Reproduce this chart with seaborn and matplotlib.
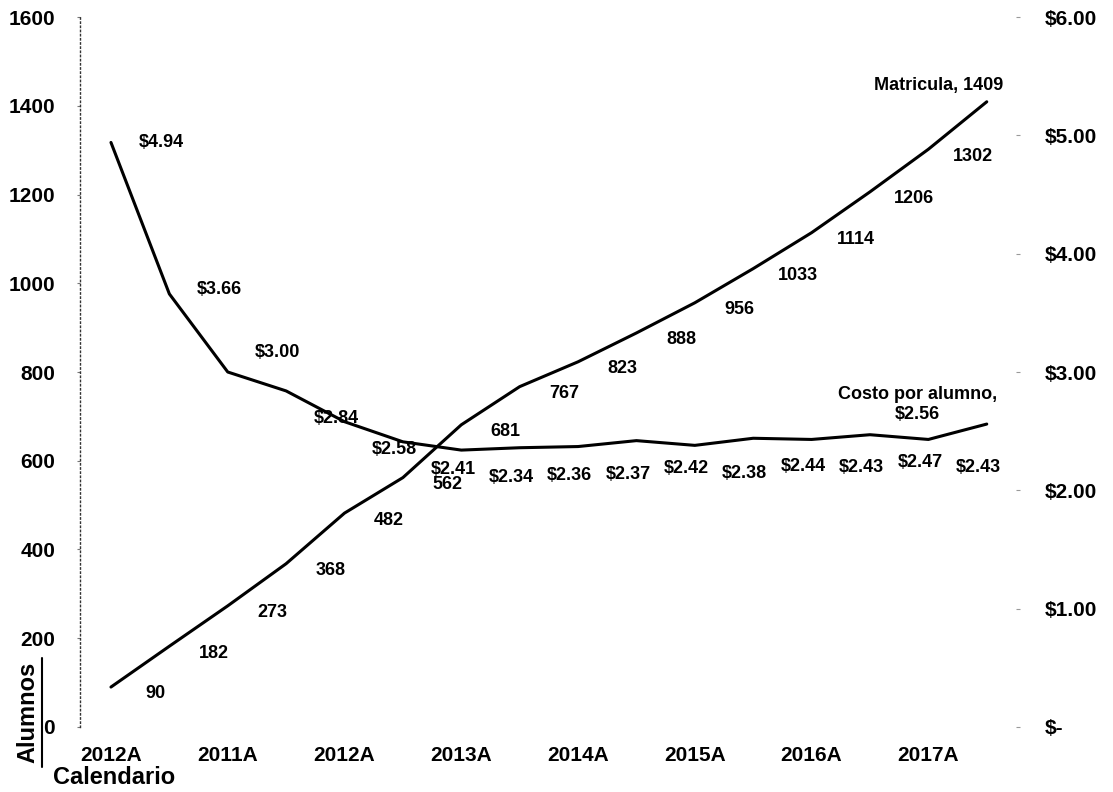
import numpy as np
import pandas as pd
import matplotlib
matplotlib.use("Agg")
import matplotlib.pyplot as plt
from matplotlib.lines import Line2D
import seaborn as sns

# Datos (semestres)
periodo = [0, 1, 2, 3, 4, 5, 6, 7, 8, 9, 10, 11, 12, 13, 14, 15]
matricula = [90, 182, 273, 368, 482, 562, 681, 767, 823, 888, 956, 1033, 1114, 1206, 1302, 1409]
costo = [4.94, 3.66, 3.00, 2.84, 2.58, 2.41, 2.34, 2.36, 2.37, 2.42, 2.38, 2.44, 2.43, 2.47, 2.43, 2.56]
x_ticks = [0, 2, 4, 6, 8, 10, 12, 14]
x_labels = ["2012A", "2011A", "2012A", "2013A", "2014A", "2015A", "2016A", "2017A"]
left_ticks = [0, 200, 400, 600, 800, 1000, 1200, 1400, 1600]
right_ticks = [0, 1, 2, 3, 4, 5, 6]
right_labels = ["$-", "$1.00", "$2.00", "$3.00", "$4.00", "$5.00", "$6.00"]

df = pd.DataFrame({"periodo": periodo, "matricula": matricula, "costo": costo})

sns.set_theme(style="white")
plt.rcParams["font.family"] = ["Liberation Sans", "DejaVu Sans"]
plt.rcParams["font.weight"] = "bold"
plt.rcParams["text.color"] = "black"
plt.rcParams["xtick.color"] = "black"
plt.rcParams["ytick.color"] = "black"

fig = plt.figure(figsize=(11.13, 7.92), dpi=100)
ax = fig.add_axes([0.0719, 0.0821, 0.8409, 0.8964])
ax2 = ax.twinx()

sns.lineplot(data=df, x="periodo", y="matricula", ax=ax, color="black", linewidth=2.2)
sns.lineplot(data=df, x="periodo", y="costo", ax=ax2, color="black", linewidth=2.2)

ax.set_xlim(-0.53, 15.5)
ax.set_ylim(0, 1600)
ax2.set_ylim(0, 6)

ax.set_xticks(x_ticks)
ax.set_xticklabels(x_labels, fontsize=15, fontweight="bold")
ax.set_yticks(left_ticks)
ax.set_yticklabels([str(v) for v in left_ticks], fontsize=15, fontweight="bold")
ax2.set_yticks(right_ticks)
ax2.set_yticklabels(right_labels, fontsize=15, fontweight="bold")

ax.tick_params(axis="x", length=0, pad=14)
ax.tick_params(axis="y", length=2, width=0.8, color="#777777", pad=16)
ax2.tick_params(axis="y", length=3, width=0.8, color="#999999", pad=18)

for s in ["top", "right", "bottom"]:
    ax.spines[s].set_visible(False)
for s in ["top", "right", "bottom", "left"]:
    ax2.spines[s].set_visible(False)
ax.spines["left"].set_linestyle((0, (1, 2)))
ax.spines["left"].set_color("#333333")
ax.spines["left"].set_linewidth(1.0)

ax.set_xlabel("")
ax.set_ylabel("")
ax2.set_ylabel("")

# etiquetas de datos
for i in range(len(periodo) - 1):
    ax.annotate(str(matricula[i]), (periodo[i], matricula[i]), xytext=(32, -5),
                textcoords="offset points", ha="center", va="center",
                fontsize=13, fontweight="bold")

cost_dy = [0, 3, 14] + [-20] * 12
for i in range(len(periodo) - 1):
    ax2.annotate(f"${costo[i]:.2f}", (periodo[i], costo[i]), xytext=(36, cost_dy[i]),
                 textcoords="offset points", ha="center", va="center",
                 fontsize=13, fontweight="bold")

ax.annotate(f"Matricula, {matricula[-1]}", (periodo[-1], matricula[-1]), xytext=(-35, 12),
            textcoords="offset points", ha="center", va="center",
            fontsize=13, fontweight="bold")
ax2.annotate(f"Costo por alumno,\n${costo[-1]:.2f}", (periodo[-1], costo[-1]), xytext=(-50, 14),
             textcoords="offset points", ha="center", va="center",
             fontsize=13, fontweight="bold", linespacing=1.2)

# titulos de ejes
fig.text(28 / 1113, 1 - 712 / 792, "Alumnos", rotation=90, ha="center", va="center",
         fontsize=17, fontweight="bold")
fig.add_artist(Line2D([42 / 1113, 42 / 1113], [1 - 658 / 792, 1 - 767 / 792],
                      color="black", linewidth=1.5))
fig.text(53 / 1113, 1 - 777 / 792, "Calendario", ha="left", va="center",
         fontsize=17, fontweight="bold")

fig.savefig("out.png", dpi=100)
